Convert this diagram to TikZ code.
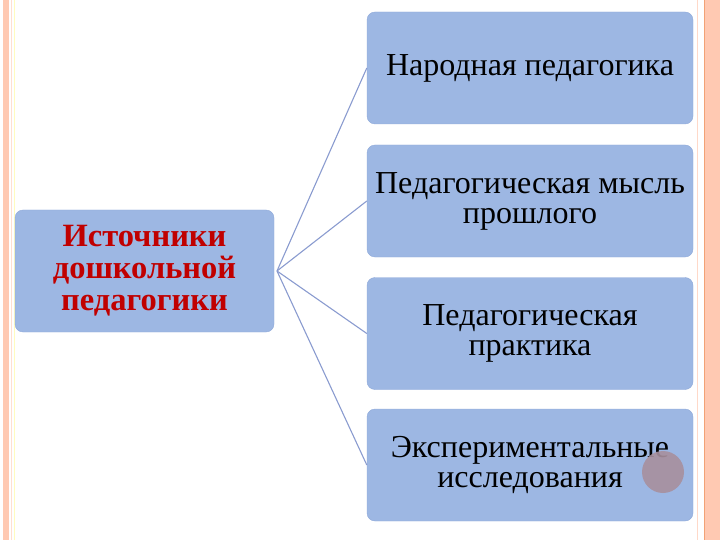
\documentclass[tikz,border=0pt]{standalone}
\usepackage{fontspec}
\setmainfont{Liberation Serif}
\usepackage{tikz}
\definecolor{boxblue}{HTML}{9DB7E3}
\definecolor{boxedge}{HTML}{8FA9D9}
\definecolor{linkblue}{HTML}{8A9BCF}
\definecolor{peach}{HTML}{FFC9B2}
\definecolor{deeporange}{HTML}{F2A276}
\definecolor{titlered}{HTML}{C00000}
\definecolor{mauve}{HTML}{A8909E}
\begin{document}
\begin{tikzpicture}[x=1pt,y=-1pt,
		block/.style ={rectangle, rounded corners=8pt, fill=boxblue, draw=boxedge, thin, align=center, minimum width=326pt, minimum height=112pt, font=\fontsize{32}{30}\selectfont},
		root/.style ={rectangle, rounded corners=8pt, fill=boxblue, draw=boxedge, thin, align=center, minimum width=259pt, minimum height=122pt, text=titlered, font=\fontsize{32.5}{32}\selectfont\bfseries}]
		\useasboundingbox (0,0) rectangle (720,540);
		% page frame
		\fill[peach] (3,0) rectangle (9,540);
		\draw[peach!60,thin] (11.5,0) -- (11.5,540);
		\draw[yellow!25,thin] (14,0) -- (14,540);
		\fill[peach] (704,0) rectangle (720,540);
		\draw[deeporange,thick] (704,0) -- (704,540);
		\draw[peach!70,thin] (697.5,0) -- (697.5,540);
		% nodes
		\node[root] (src) at (144.5,271) {Источники\\дошкольной\\педагогики};
		\node[block] (folk) at (530,68) {Народная педагогика};
		\node[block] (past) at (530,201) {Педагогическая мысль\\прошлого};
		\node[block] (prac) at (530,333.5) {Педагогическая\\практика};
		\node[block] (expr) at (530,465) {Экспериментальные\\исследования};
		\coordinate (hub) at (277,271);
		\draw[linkblue,line width=1.1pt] (hub)--(folk.west);
		\draw[linkblue,line width=1.1pt] (hub)--(past.west);
		\draw[linkblue,line width=1.1pt] (hub)--(prac.west);
		\draw[linkblue,line width=1.1pt] (hub)--(expr.west);
		\fill[mauve,opacity=.9] (663,472) circle (21);
	\end{tikzpicture}
\end{document}
